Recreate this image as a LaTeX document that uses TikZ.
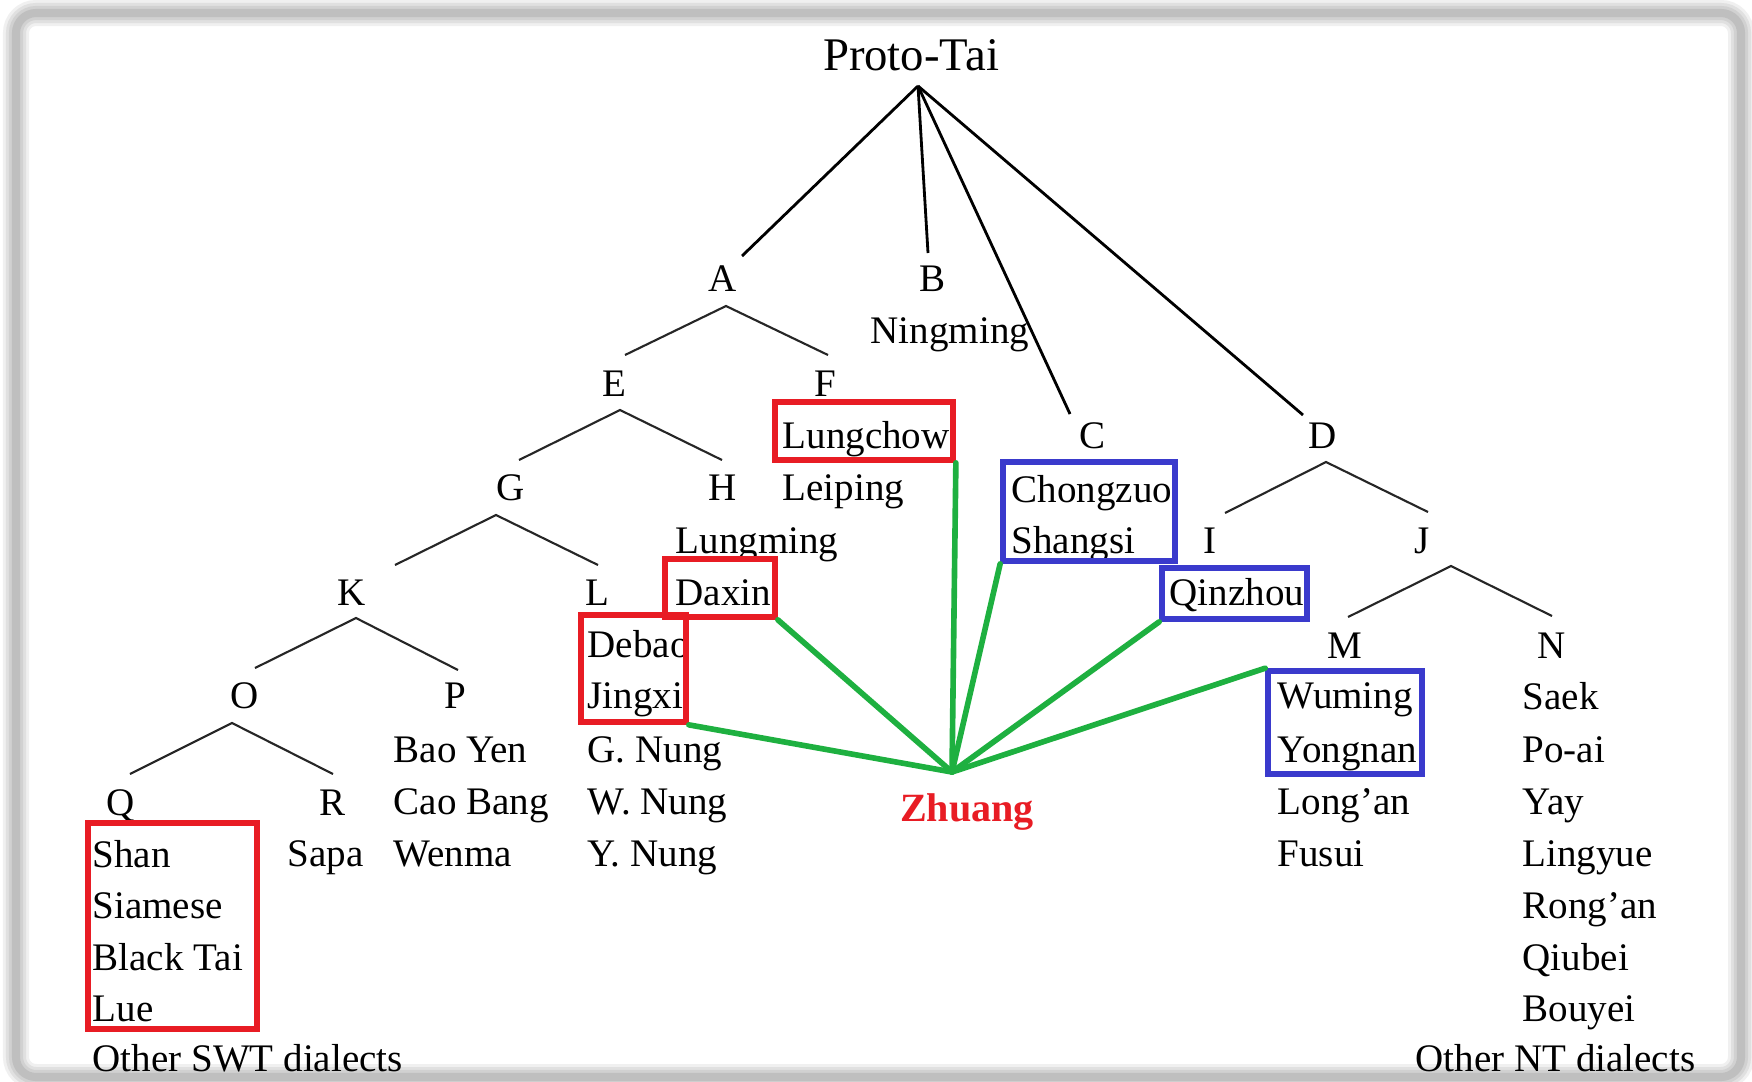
\documentclass[tikz,border=0pt]{standalone}
\usepackage{fontspec}
\setmainfont{Liberation Serif}
\definecolor{boxred}{RGB}{232,28,36}
\definecolor{boxblue}{RGB}{58,58,204}
\definecolor{linkgreen}{RGB}{30,176,64}
\begin{document}
\begin{tikzpicture}[x=0.01cm,y=-0.01cm,
  lbl/.style={inner sep=0pt, anchor=base, font=\fontsize{11.1}{13}\selectfont},
  lft/.style={inner sep=0pt, anchor=base west, font=\fontsize{11.1}{13}\selectfont},
  branch/.style={line width=0.6pt, black!85},
  rootline/.style={line width=0.8pt, black},
  redbox/.style={draw=boxred, line width=1.6pt, inner sep=0pt, rectangle},
  bluebox/.style={draw=boxblue, line width=1.6pt, inner sep=0pt, rectangle},
  link/.style={draw=linkgreen, line width=1.6pt, line cap=round},
  framestroke/.style={rounded corners=0.2cm}]
\useasboundingbox (0,0) rectangle (1752,1081);
\fill[white] (0,0) rectangle (1752,1081);

% ---- frame with soft shadow (drawn first, text sits over it)
\draw[framestroke, line width=7.4pt, black!6] (16,13) rectangle (1741,1077);
\draw[framestroke, line width=5.7pt, black!12] (16,13) rectangle (1741,1077);
\draw[framestroke, line width=4.0pt, black!18] (16,13) rectangle (1741,1077);
\draw[framestroke, line width=2.3pt, black!25] (16,13) rectangle (1741,1077);

% ---- texts
\node[inner sep=0pt, anchor=base, font=\fontsize{13.3}{16}\selectfont] (root) at (911,70) {Proto-Tai};
\node[lbl] (nA) at (723,291) {A};
\node[lbl] (nB) at (933,291) {B};
\node[lft] (tNingming) at (870,343) {Ningming};
\node[lbl] (nE) at (614,396) {E};
\node[lbl] (nF) at (825,396) {F};
\node[lft] (tLungchow) at (782,448) {Lungchow};
\node[lbl] (nC) at (1092,448) {C};
\node[lbl] (nD) at (1323,448) {D};
\node[lbl] (nG) at (511,500) {G};
\node[lbl] (nH) at (723,500) {H};
\node[lft] (tLeiping) at (782,500) {Leiping};
\node[lft] (tChongzuo) at (1011,502) {Chongzuo};
\node[lft] (tLungming) at (675,553) {Lungming};
\node[lft] (tShangsi) at (1011,553) {Shangsi};
\node[lbl] (nI) at (1210,553) {I};
\node[lbl] (nJ) at (1422,553) {J};
\node[lbl] (nK) at (352,605) {K};
\node[lbl] (nL) at (597,605) {L};
\node[lft] (tDaxin) at (675,605) {Daxin};
\node[lft] (tQinzhou) at (1169,605) {Qinzhou};
\node[lft] (tDebao) at (587,657) {Debao};
\node[lbl] (nM) at (1345,658) {M};
\node[lbl] (nN) at (1552,658) {N};
\node[lbl] (nO) at (245,708) {O};
\node[lbl] (nP) at (455,708) {P};
\node[lft] (tJingxi) at (587,708) {Jingxi};
\node[lft] (tWuming) at (1277,708) {Wuming};
\node[lft] (tSaek) at (1522,709) {Saek};
\node[lft] (tBaoYen) at (393,762) {Bao Yen};
\node[lft] (tGNung) at (587,762) {G. Nung};
\node[lft] (tYongnan) at (1277,762) {Yongnan};
\node[lft] (tPoai) at (1522,762) {Po-ai};
\node[lbl] (nQ) at (121,815) {Q};
\node[lbl] (nR) at (333,815) {R};
\node[lft] (tCaoBang) at (393,814) {Cao Bang};
\node[lft] (tWNung) at (587,814) {W. Nung};
\node[inner sep=0pt, anchor=base, font=\fontsize{11.4}{13}\selectfont\bfseries, text=boxred] (zhuang) at (967,821) {Zhuang};
\node[lft] (tLongan) at (1277,814) {Long’an};
\node[lft] (tYay) at (1522,814) {Yay};
\node[lft] (tShan) at (92,867) {Shan};
\node[lft] (tSapa) at (287,866) {Sapa};
\node[lft] (tWenma) at (393,866) {Wenma};
\node[lft] (tYNung) at (587,866) {Y. Nung};
\node[lft] (tFusui) at (1277,866) {Fusui};
\node[lft] (tLingyue) at (1522,866) {Lingyue};
\node[lft] (tSiamese) at (92,918) {Siamese};
\node[lft] (tRongan) at (1522,918) {Rong’an};
\node[lft] (tBlackTai) at (92,970) {Black Tai};
\node[lft] (tQiubei) at (1522,970) {Qiubei};
\node[lft] (tLue) at (92,1021) {Lue};
\node[lft] (tBouyei) at (1522,1021) {Bouyei};
\node[lft] (tSWT) at (92,1071) {Other SWT dialects};
\node[lbl, anchor=base east] (tNT) at (1696,1071) {Other NT dialects};

% ---- tree coordinates
\coordinate (rootApex) at (918,86);
\coordinate (endA) at (742,256);
\coordinate (endB) at (928,253);
\coordinate (endC) at (1070,414);
\coordinate (endD) at (1303,415);
\coordinate (apA) at (726,306); \coordinate (aL) at (625,355); \coordinate (aR) at (828,355);
\coordinate (apE) at (620,410); \coordinate (eL) at (519,460); \coordinate (eR) at (722,460);
\coordinate (apG) at (496,515); \coordinate (gL) at (395,565); \coordinate (gR) at (598,565);
\coordinate (apK) at (356,618); \coordinate (kL) at (255,668); \coordinate (kR) at (458,670);
\coordinate (apO) at (232,723); \coordinate (oL) at (130,774); \coordinate (oR) at (333,774);
\coordinate (apD) at (1326,462); \coordinate (dL) at (1225,513); \coordinate (dR) at (1428,512);
\coordinate (apJ) at (1451,566); \coordinate (jL) at (1348,617); \coordinate (jR) at (1552,616);

\draw[rootline] (rootApex) -- (endA);
\draw[rootline] (rootApex) -- (endB);
\draw[rootline] (rootApex) -- (endC);
\draw[rootline] (rootApex) -- (endD);
\draw[branch] (aL) -- (apA) -- (aR);
\draw[branch] (eL) -- (apE) -- (eR);
\draw[branch] (gL) -- (apG) -- (gR);
\draw[branch] (kL) -- (apK) -- (kR);
\draw[branch] (oL) -- (apO) -- (oR);
\draw[branch] (dL) -- (apD) -- (dR);
\draw[branch] (jL) -- (apJ) -- (jR);

% ---- boxes
\node[redbox, minimum width=1.78cm, minimum height=0.58cm] (bLung) at (864,431) {};
\node[bluebox, minimum width=1.72cm, minimum height=0.99cm] (bChong) at (1089,511.5) {};
\node[redbox, minimum width=1.10cm, minimum height=0.58cm] (bDaxin) at (720,588) {};
\node[redbox, minimum width=1.05cm, minimum height=1.07cm] (bDebao) at (633.5,668.5) {};
\node[bluebox, minimum width=1.45cm, minimum height=0.51cm] (bQin) at (1234.5,593.5) {};
\node[bluebox, minimum width=1.54cm, minimum height=1.03cm] (bWu) at (1345,722.5) {};
\node[redbox, minimum width=1.69cm, minimum height=2.06cm] (bShan) at (172.5,926) {};

% ---- green links
\coordinate (hub) at (952,772);
\draw[link] (bLung.south east) -- (hub);
\draw[link] (bDaxin.south east) -- (hub);
\draw[link] (bDebao.south east) -- (hub);
\draw[link] (bChong.south west) -- (hub);
\draw[link] (bQin.south west) -- (hub);
\draw[link] (bWu.north west) -- (hub);
\end{tikzpicture}
\end{document}
